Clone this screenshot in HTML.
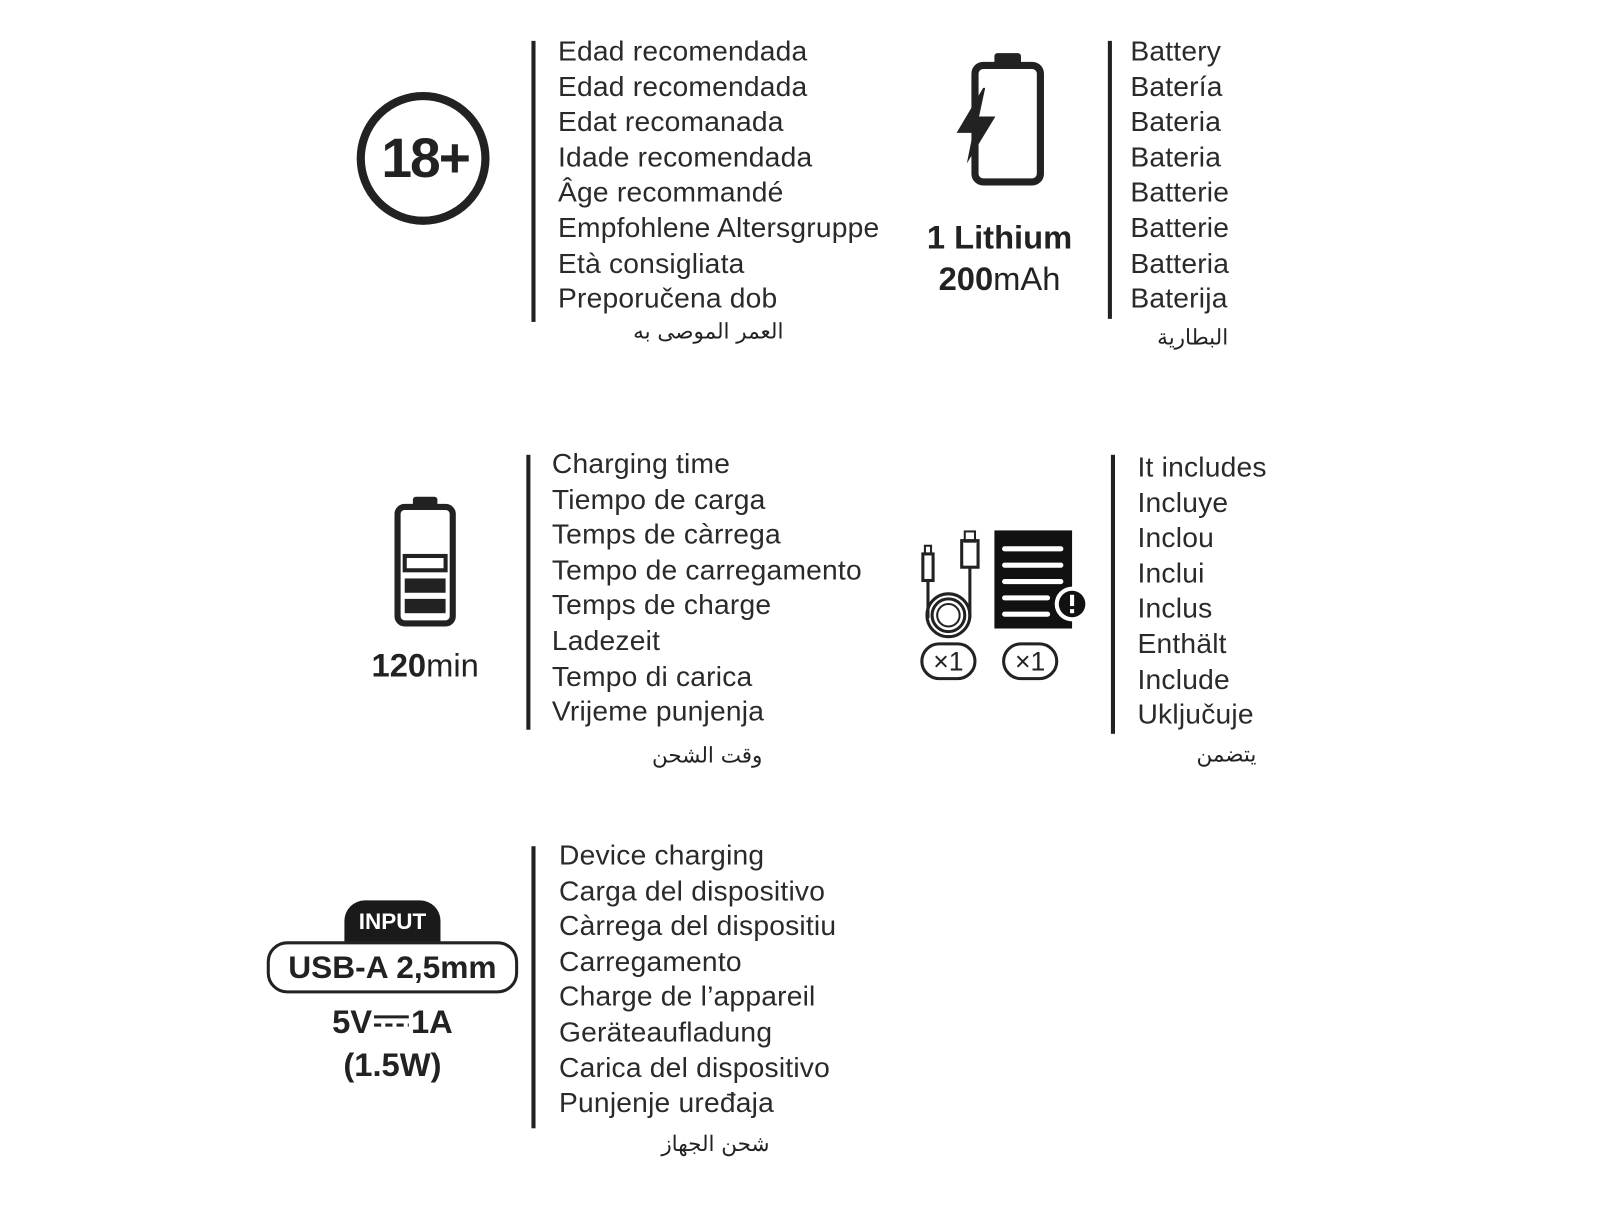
<!DOCTYPE html>
<html><head><meta charset="utf-8"><style>
body{margin:0;width:1600px;height:1200px;background:#fff;position:relative;overflow:hidden;font-family:"Liberation Sans",sans-serif;color:#222}
#w{position:absolute;left:0;top:0;width:1600px;height:1200px;transform:scale(1.022);transform-origin:0 0}
.a{position:absolute}
.t{position:absolute;font-size:27.6px;line-height:34.6px;color:#2a2a2a;white-space:nowrap;letter-spacing:0.2px}
.bar{position:absolute;width:4px;background:#222}
.ar{position:absolute;font-family:"DejaVu Serif","Liberation Serif",serif;font-size:21px;color:#222;white-space:nowrap;transform:translateX(-50%);direction:rtl}
.b{font-weight:bold}
</style></head><body><div id="w">

<!-- Block 1 -->
<div class="a" style="left:349px;top:90px;width:130px;height:130px;border:8px solid #222;border-radius:50%;box-sizing:border-box"></div>
<div class="a b" style="left:349px;top:125px;width:134px;text-align:center;font-size:54px;line-height:60px;letter-spacing:-2px">18+</div>
<div class="bar" style="left:520px;top:40px;height:275px"></div>
<div class="t" style="left:546px;top:33px">Edad recomendada<br>Edad recomendada<br>Edat recomanada<br>Idade recomendada<br>Âge recommandé<br>Empfohlene Altersgruppe<br>Età consigliata<br>Preporučena dob</div>
<div class="ar" style="left:693px;top:312px">العمر الموصى به</div>

<!-- Block 2 -->
<svg class="a" style="left:930px;top:48px" width="100" height="140">
<rect x="43" y="4" width="26" height="14" rx="3" fill="#222"/>
<rect x="24" y="16" width="64" height="114" rx="8" fill="none" stroke="#222" stroke-width="7"/>
<polygon points="32,38 6,82 22,82 16,112 44,66 28,66 34,38" fill="#222"/>
</svg>
<div class="a b" style="left:878px;top:212px;width:200px;text-align:center;font-size:32px;line-height:40px">1 Lithium</div>
<div class="a" style="left:878px;top:253px;width:200px;text-align:center;font-size:32px;line-height:40px"><b>200</b>mAh</div>
<div class="bar" style="left:1084px;top:40px;height:272px"></div>
<div class="t" style="left:1106px;top:33px">Battery<br>Batería<br>Bateria<br>Bateria<br>Batterie<br>Batterie<br>Batteria<br>Baterija</div>
<div class="ar" style="left:1167px;top:318px">البطارية</div>

<!-- Block 3 -->
<svg class="a" style="left:380px;top:482px" width="72" height="136">
<rect x="24" y="4" width="24" height="12" rx="3" fill="#222"/>
<rect x="9" y="14" width="54" height="114" rx="7" fill="none" stroke="#222" stroke-width="6"/>
<rect x="16" y="62" width="40" height="14" fill="#fff" stroke="#222" stroke-width="4"/>
<rect x="16" y="84" width="40" height="14" fill="#222"/>
<rect x="16" y="104" width="40" height="14" fill="#222"/>
</svg>
<div class="a" style="left:316px;top:631px;width:200px;text-align:center;font-size:32px;line-height:40px"><b>120</b>min</div>
<div class="bar" style="left:515px;top:445px;height:269px"></div>
<div class="t" style="left:540px;top:437px">Charging time<br>Tiempo de carga<br>Temps de càrrega<br>Tempo de carregamento<br>Temps de charge<br>Ladezeit<br>Tempo di carica<br>Vrijeme punjenja</div>
<div class="ar" style="left:692px;top:727px">وقت الشحن</div>

<!-- Block 4 -->
<svg class="a" style="left:895px;top:510px" width="180" height="170">
<rect x="8" y="32" width="10" height="26" fill="none" stroke="#222" stroke-width="3"/>
<rect x="10" y="24" width="6" height="8" fill="none" stroke="#222" stroke-width="2"/>
<rect x="46" y="19" width="16" height="26" fill="none" stroke="#222" stroke-width="3"/>
<rect x="49" y="10" width="10" height="10" fill="none" stroke="#222" stroke-width="2"/>
<line x1="13" y1="58" x2="13" y2="95" stroke="#222" stroke-width="3"/>
<line x1="54" y1="45" x2="54" y2="95" stroke="#222" stroke-width="3"/>
<circle cx="33" cy="92" r="21" fill="none" stroke="#222" stroke-width="3"/>
<circle cx="33" cy="92" r="16" fill="none" stroke="#222" stroke-width="3"/>
<circle cx="33" cy="92" r="11" fill="none" stroke="#222" stroke-width="2"/>
<rect x="78" y="9" width="76" height="96" fill="#111"/>
<g stroke="#fff" stroke-width="5" stroke-linecap="round"><line x1="88" y1="27" x2="143" y2="27"/><line x1="88" y1="43" x2="143" y2="43"/><line x1="88" y1="59" x2="143" y2="59"/><line x1="88" y1="75" x2="130" y2="75"/><line x1="88" y1="91" x2="130" y2="91"/></g>
<circle cx="154" cy="81" r="17" fill="#fff"/>
<circle cx="154" cy="81" r="13" fill="#111"/>
<rect x="152" y="72" width="4" height="11" fill="#fff"/><rect x="152" y="86" width="4" height="4" fill="#fff"/>
<rect x="7" y="120" width="52" height="34" rx="17" fill="none" stroke="#222" stroke-width="3"/>
<rect x="87" y="120" width="52" height="34" rx="17" fill="none" stroke="#222" stroke-width="3"/>
<text x="33" y="146" text-anchor="middle" font-family="Liberation Sans" font-size="26" fill="#222">×1</text>
<text x="113" y="146" text-anchor="middle" font-family="Liberation Sans" font-size="26" fill="#222">×1</text>
</svg>
<div class="bar" style="left:1087px;top:445px;height:273px"></div>
<div class="t" style="left:1113px;top:440px">It includes<br>Incluye<br>Inclou<br>Inclui<br>Inclus<br>Enthält<br>Include<br>Uključuje</div>
<div class="ar" style="left:1200px;top:726px">يتضمن</div>

<!-- Block 5 -->
<div class="a b" style="left:337px;top:881px;width:94px;height:42px;background:#1a1a1a;color:#fff;border-radius:20px 20px 0 0;text-align:center;font-size:22px;line-height:42px">INPUT</div>
<div class="a b" style="left:261px;top:921px;width:246px;height:51px;border:3px solid #222;border-radius:20px;box-sizing:border-box;text-align:center;font-size:31px;line-height:45px;background:#fff">USB-A 2,5mm</div>
<div class="a b" style="left:284px;top:980px;width:200px;text-align:center;font-size:32px;line-height:40px">5V<svg width="38" height="20" style="vertical-align:2px"><line x1="2" y1="6" x2="36" y2="6" stroke="#222" stroke-width="3"/><line x1="2" y1="14" x2="36" y2="14" stroke="#222" stroke-width="3" stroke-dasharray="7 4"/></svg>1A</div>
<div class="a b" style="left:284px;top:1022px;width:200px;text-align:center;font-size:32px;line-height:40px">(1.5W)</div>
<div class="bar" style="left:520px;top:828px;height:276px"></div>
<div class="t" style="left:547px;top:820px">Device charging<br>Carga del dispositivo<br>Càrrega del dispositiu<br>Carregamento<br>Charge de l’appareil<br>Geräteaufladung<br>Carica del dispositivo<br>Punjenje uređaja</div>
<div class="ar" style="left:700px;top:1107px">شحن الجهاز</div>

</div></body></html>
